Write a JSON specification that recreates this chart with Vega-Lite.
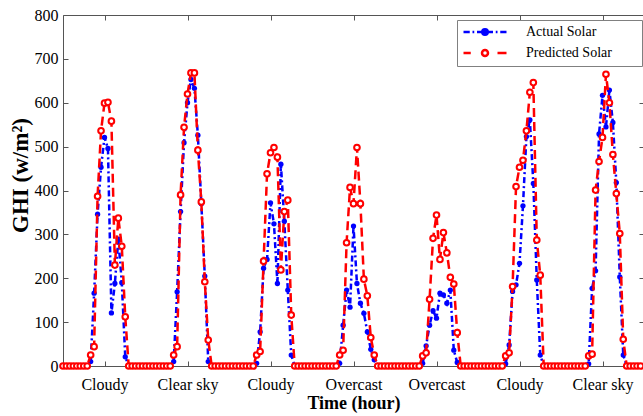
{
  "$schema": "https://vega.github.io/schema/vega-lite/v6.json",
  "width": 581,
  "height": 351,
  "autosize": {"type": "none"},
  "padding": {"left": 63, "top": 15, "right": 0, "bottom": 50},
  "background": "white",
  "config": {
    "view": {"stroke": null},
    "font": "Liberation Serif",
    "axis": {
      "grid": false,
      "domainColor": "#555555",
      "tickColor": "#555555",
      "labelColor": "black",
      "titleColor": "black",
      "labelFont": "Liberation Serif",
      "titleFont": "Liberation Serif",
      "labelFontSize": 16,
      "titleFontSize": 18,
      "titleFontWeight": "bold",
      "tickSize": -5,
      "labelFlush": false,
      "labelOverlap": false
    }
  },
  "data": {"values": [
    {"h":0,"a":0,"p":0},{"h":1,"a":0,"p":0},{"h":2,"a":0,"p":0},{"h":3,"a":0,"p":0},{"h":4,"a":0,"p":0},{"h":5,"a":0,"p":0},{"h":6,"a":0,"p":0},{"h":7,"a":0,"p":0},
    {"h":8,"a":10,"p":25},{"h":9,"a":166,"p":44},{"h":10,"a":346,"p":387},{"h":11,"a":453,"p":536},{"h":12,"a":521,"p":599},{"h":13,"a":496,"p":601},{"h":14,"a":121,"p":558},{"h":15,"a":188,"p":230},{"h":16,"a":289,"p":337},{"h":17,"a":190,"p":273},{"h":18,"a":21,"p":112},
    {"h":19,"a":0,"p":0},{"h":20,"a":0,"p":0},{"h":21,"a":0,"p":0},{"h":22,"a":0,"p":0},{"h":23,"a":0,"p":0},
    {"h":24,"a":0,"p":0},{"h":25,"a":0,"p":0},{"h":26,"a":0,"p":0},{"h":27,"a":0,"p":0},{"h":28,"a":0,"p":0},{"h":29,"a":0,"p":0},{"h":30,"a":0,"p":0},{"h":31,"a":0,"p":0},
    {"h":32,"a":10,"p":25},{"h":33,"a":169,"p":44},{"h":34,"a":352,"p":390},{"h":35,"a":509,"p":544},{"h":36,"a":600,"p":620},{"h":37,"a":653,"p":668},{"h":38,"a":633,"p":668},{"h":39,"a":526,"p":492},{"h":40,"a":370,"p":374},{"h":41,"a":205,"p":192},{"h":42,"a":10,"p":59},
    {"h":43,"a":0,"p":0},{"h":44,"a":0,"p":0},{"h":45,"a":0,"p":0},{"h":46,"a":0,"p":0},{"h":47,"a":0,"p":0},
    {"h":48,"a":0,"p":0},{"h":49,"a":0,"p":0},{"h":50,"a":0,"p":0},{"h":51,"a":0,"p":0},{"h":52,"a":0,"p":0},{"h":53,"a":0,"p":0},{"h":54,"a":0,"p":0},{"h":55,"a":0,"p":0},
    {"h":56,"a":6,"p":25},{"h":57,"a":78,"p":33},{"h":58,"a":223,"p":239},{"h":59,"a":243,"p":438},{"h":60,"a":372,"p":486},{"h":61,"a":324,"p":498},{"h":62,"a":188,"p":476},{"h":63,"a":460,"p":219},{"h":64,"a":330,"p":352},{"h":65,"a":173,"p":378},{"h":66,"a":25,"p":116},
    {"h":67,"a":0,"p":0},{"h":68,"a":0,"p":0},{"h":69,"a":0,"p":0},{"h":70,"a":0,"p":0},{"h":71,"a":0,"p":0},
    {"h":72,"a":0,"p":0},{"h":73,"a":0,"p":0},{"h":74,"a":0,"p":0},{"h":75,"a":0,"p":0},{"h":76,"a":0,"p":0},{"h":77,"a":0,"p":0},{"h":78,"a":0,"p":0},{"h":79,"a":0,"p":0},
    {"h":80,"a":6,"p":25},{"h":81,"a":93,"p":36},{"h":82,"a":173,"p":281},{"h":83,"a":134,"p":407},{"h":84,"a":319,"p":370},{"h":85,"a":188,"p":498},{"h":86,"a":143,"p":370},{"h":87,"a":120,"p":198},{"h":88,"a":78,"p":160},{"h":89,"a":38,"p":65},{"h":90,"a":14,"p":25},
    {"h":91,"a":0,"p":0},{"h":92,"a":0,"p":0},{"h":93,"a":0,"p":0},{"h":94,"a":0,"p":0},{"h":95,"a":0,"p":0},
    {"h":96,"a":0,"p":0},{"h":97,"a":0,"p":0},{"h":98,"a":0,"p":0},{"h":99,"a":0,"p":0},{"h":100,"a":0,"p":0},{"h":101,"a":0,"p":0},{"h":102,"a":0,"p":0},{"h":103,"a":0,"p":0},
    {"h":104,"a":6,"p":23},{"h":105,"a":46,"p":30},{"h":106,"a":93,"p":152},{"h":107,"a":126,"p":291},{"h":108,"a":109,"p":344},{"h":109,"a":166,"p":243},{"h":110,"a":162,"p":304},{"h":111,"a":143,"p":258},{"h":112,"a":173,"p":202},{"h":113,"a":36,"p":187},{"h":114,"a":8,"p":76},
    {"h":115,"a":0,"p":0},{"h":116,"a":0,"p":0},{"h":117,"a":0,"p":0},{"h":118,"a":0,"p":0},{"h":119,"a":0,"p":0},
    {"h":120,"a":0,"p":0},{"h":121,"a":0,"p":0},{"h":122,"a":0,"p":0},{"h":123,"a":0,"p":0},{"h":124,"a":0,"p":0},{"h":125,"a":0,"p":0},{"h":126,"a":0,"p":0},{"h":127,"a":0,"p":0},
    {"h":128,"a":5,"p":23},{"h":129,"a":48,"p":30},{"h":130,"a":170,"p":181},{"h":131,"a":185,"p":409},{"h":132,"a":234,"p":453},{"h":133,"a":365,"p":469},{"h":134,"a":523,"p":536},{"h":135,"a":561,"p":624},{"h":136,"a":416,"p":646},{"h":137,"a":196,"p":287},{"h":138,"a":25,"p":207},
    {"h":139,"a":0,"p":0},{"h":140,"a":0,"p":0},{"h":141,"a":0,"p":0},{"h":142,"a":0,"p":0},{"h":143,"a":0,"p":0},
    {"h":144,"a":0,"p":0},{"h":145,"a":0,"p":0},{"h":146,"a":0,"p":0},{"h":147,"a":0,"p":0},{"h":148,"a":0,"p":0},{"h":149,"a":0,"p":0},{"h":150,"a":0,"p":0},{"h":151,"a":0,"p":0},
    {"h":152,"a":5,"p":23},{"h":153,"a":177,"p":27},{"h":154,"a":217,"p":401},{"h":155,"a":529,"p":466},{"h":156,"a":617,"p":521},{"h":157,"a":545,"p":665},{"h":158,"a":629,"p":600},{"h":159,"a":555,"p":482},{"h":160,"a":418,"p":393},{"h":161,"a":203,"p":302},{"h":162,"a":25,"p":61},
    {"h":163,"a":0,"p":0},{"h":164,"a":0,"p":0},{"h":165,"a":0,"p":0},{"h":166,"a":0,"p":0},{"h":167,"a":0,"p":0}
  ]},
  "layer": [
    {
      "mark": {"type": "line", "strokeDash": [6, 3, 2, 3], "strokeWidth": 2.5},
      "encoding": {
        "x": {"field": "h", "type": "quantitative", "scale": {"domain": [0, 168], "nice": false, "zero": false},
          "axis": {"orient": "bottom", "values": [12, 36, 60, 84, 108, 132, 156],
            "labelExpr": "['Cloudy','Clear sky','Cloudy','Overcast','Overcast','Cloudy','Clear sky'][floor(datum.value/24)]",
            "title": "Time (hour)", "labelPadding": 15, "titlePadding": 2}},
        "y": {"field": "a", "type": "quantitative", "scale": {"domain": [0, 800], "nice": false},
          "axis": {"orient": "left", "values": [0, 100, 200, 300, 400, 500, 600, 700, 800],
            "title": "GHI (w/m²)", "titleFontSize": 23, "titleY": 160, "labelPadding": 10, "titlePadding": 2}},
        "color": {"datum": "Actual Solar", "type": "nominal",
          "scale": {"domain": ["Actual Solar", "Predicted Solar"], "range": ["#0000ff", "#ff0000"]},
          "legend": {
            "orient": "none", "legendX": 394, "legendY": 5, "title": null,
            "padding": 5, "strokeColor": "#808080", "fillColor": "white",
            "labelFont": "Liberation Serif", "labelFontSize": 14, "labelColor": "black",
            "symbolSize": 100, "symbolOffset": 16, "labelOffset": 34, "rowPadding": 5,
            "symbolStrokeWidth": 2.5,
            "labelExpr": "datum.label + '\u00a0\u00a0\u00a0\u00a0\u00a0\u00a0\u00a0\u200b'",
            "encode": {"symbols": {"update": {
              "shape": {"signal": "datum.value === 'Actual Solar' ? 'M-4.3,0L-3.05,0M-2.5,0L-2.15,0M-1.6,0L-0.55,0M0.55,0L1.6,0M2.15,0L2.5,0M3.05,0L4.3,0M-0.55,0A0.55,0.55,0,1,1,0.55,0A0.55,0.55,0,1,1,-0.55,0Z' : 'M-4.3,0L-2.85,0M2.5,0L4.3,0M-0.6,0A0.6,0.6,0,1,1,0.6,0A0.6,0.6,0,1,1,-0.6,0Z'"},
              "fill": {"signal": "datum.value === 'Actual Solar' ? '#0000ff' : '#ffffff'"},
              "fillOpacity": {"value": 1},
              "strokeDash": {"value": []}
            }}}
          }}
      }
    },
    {
      "mark": {"type": "point", "filled": true, "size": 28, "color": "#0000ff", "opacity": 1},
      "encoding": {
        "x": {"field": "h", "type": "quantitative", "axis": null},
        "y": {"field": "a", "type": "quantitative", "axis": null}
      }
    },
    {
      "mark": {"type": "line", "strokeDash": [9, 5], "strokeWidth": 2.5},
      "encoding": {
        "x": {"field": "h", "type": "quantitative",
          "axis": {"orient": "top", "values": [12, 36, 60, 84, 108, 132, 156], "labels": false, "title": null}},
        "y": {"field": "p", "type": "quantitative",
          "axis": {"orient": "right", "values": [0, 100, 200, 300, 400, 500, 600, 700, 800], "labels": false, "title": null}},
        "color": {"datum": "Predicted Solar", "type": "nominal"}
      }
    },
    {
      "mark": {"type": "point", "filled": false, "size": 32, "stroke": "#ff0000", "fill": "white", "fillOpacity": 1, "strokeWidth": 2, "opacity": 1},
      "encoding": {
        "x": {"field": "h", "type": "quantitative", "axis": null},
        "y": {"field": "p", "type": "quantitative", "axis": null}
      }
    }
  ],
  "resolve": {"axis": {"x": "independent", "y": "independent"}}
}
